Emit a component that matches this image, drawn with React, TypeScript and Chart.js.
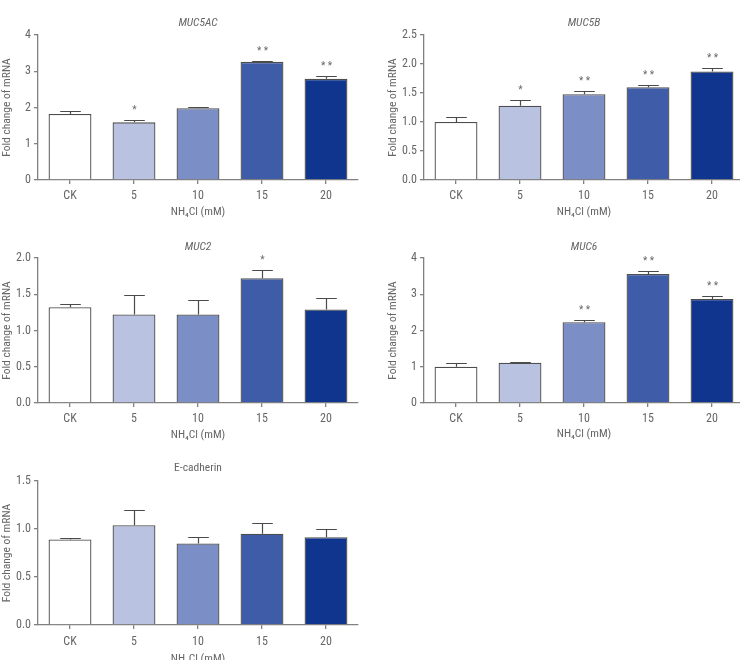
import React, { useEffect, useRef } from "react";
import { Chart, registerables } from "chart.js";

Chart.register(...registerables);

// ---------------- Data ----------------
const categories = ["CK", "5", "10", "15", "20"];

const muc5acMeans = [1.82, 1.59, 1.98, 3.26, 2.79];
const muc5acErr = [0.08, 0.06, 0.04, 0.03, 0.07];
const muc5acStars = ["", "*", "", "**", "**"];

const muc5bMeans = [1.0, 1.28, 1.48, 1.6, 1.87];
const muc5bErr = [0.08, 0.1, 0.06, 0.04, 0.06];
const muc5bStars = ["", "*", "**", "**", "**"];

const muc2Means = [1.32, 1.22, 1.22, 1.72, 1.29];
const muc2Err = [0.04, 0.27, 0.2, 0.11, 0.16];
const muc2Stars = ["", "", "", "*", ""];

const muc6Means = [1.0, 1.11, 2.23, 3.56, 2.87];
const muc6Err = [0.11, 0.03, 0.06, 0.07, 0.08];
const muc6Stars = ["", "", "**", "**", "**"];

const ecadMeans = [0.89, 1.04, 0.85, 0.95, 0.915];
const ecadErr = [0.02, 0.16, 0.07, 0.11, 0.09];
const ecadStars = ["", "", "", "", ""];

const yAxisTitle = "Fold change of mRNA";
const xAxisTitle = "NH\u2084Cl (mM)";

// ---------------- Style ----------------
const barColors = ["#ffffff", "#b9c3e1", "#7b8ec5", "#3f5ca8", "#0f358f"];
const FONT = '"Roboto Condensed", "Open Sans", sans-serif';
const TEXT = "#666666";
const AXIS = "#808080";

type PanelSpec = {
  title: string;
  italic: boolean;
  means: number[];
  errs: number[];
  stars: string[];
  max: number;
  step: number;
  decimals: number;
  x0: number;
  y0: number;
  plotLeft: number;
  plotRight: number;
  plotTop: number;
  plotBottom: number;
  titleY: number;
  xTickY: number;
  xTitleY: number;
  yTitleX: number;
};

const panels: PanelSpec[] = [
  { title: "MUC5AC", italic: true, means: muc5acMeans, errs: muc5acErr, stars: muc5acStars, max: 4, step: 1, decimals: 0,
    x0: 0, y0: 0, plotLeft: 38, plotRight: 358, plotTop: 35, plotBottom: 180, titleY: 23, xTickY: 196, xTitleY: 212, yTitleX: 7 },
  { title: "MUC5B", italic: true, means: muc5bMeans, errs: muc5bErr, stars: muc5bStars, max: 2.5, step: 0.5, decimals: 1,
    x0: 370, y0: 0, plotLeft: 424, plotRight: 744, plotTop: 35, plotBottom: 180, titleY: 23, xTickY: 196, xTitleY: 212, yTitleX: 393 },
  { title: "MUC2", italic: true, means: muc2Means, errs: muc2Err, stars: muc2Stars, max: 2, step: 0.5, decimals: 1,
    x0: 0, y0: 220, plotLeft: 38, plotRight: 358, plotTop: 258, plotBottom: 403, titleY: 247, xTickY: 419, xTitleY: 435, yTitleX: 7 },
  { title: "MUC6", italic: true, means: muc6Means, errs: muc6Err, stars: muc6Stars, max: 4, step: 1, decimals: 0,
    x0: 370, y0: 220, plotLeft: 424, plotRight: 744, plotTop: 258, plotBottom: 403, titleY: 247, xTickY: 419, xTitleY: 434, yTitleX: 393 },
  { title: "E-cadherin", italic: false, means: ecadMeans, errs: ecadErr, stars: ecadStars, max: 1.5, step: 0.5, decimals: 1,
    x0: 0, y0: 440, plotLeft: 38, plotRight: 358, plotTop: 481, plotBottom: 625, titleY: 468, xTickY: 642, xTitleY: 659, yTitleX: 7 },
];

const TICK_FONT = 12;
const TITLE_FONT = 11.5;
const AXIS_TITLE_FONT = 11.5;
const STAR_FONT = 10;
const TICK_LEN = 4;

function Panel({ spec }: { spec: PanelSpec }) {
  const ref = useRef<HTMLCanvasElement | null>(null);
  const W = spec.plotRight - spec.x0 + 2;
  const xTitleLH = AXIS_TITLE_FONT * 1.2;
  const H = Math.round(spec.xTitleY + xTitleLH / 2 + 2 - spec.y0);
  const yAxisW = spec.plotLeft - spec.x0;
  const xAxisH = H - (spec.plotBottom - spec.y0);
  const topPad = spec.plotTop - spec.y0;
  const tickPad = Math.max(0, spec.xTickY - spec.plotBottom - TICK_LEN - (TICK_FONT * 1.2) / 2);

  useEffect(() => {
    if (!ref.current) return;
    const overlay = {
      id: "errStarsTitle",
      afterDatasetsDraw(chart: any) {
        const ctx = chart.ctx;
        const meta = chart.getDatasetMeta(0);
        const ys = chart.scales.y;
        ctx.save();
        spec.means.forEach((m, i) => {
          const bar = meta.data[i];
          const x = Math.round(bar.x) + 0.5;
          const yTop = ys.getPixelForValue(m);
          const yErr = Math.round(ys.getPixelForValue(m + spec.errs[i])) + 0.5;
          const cap = bar.width * 0.24;
          ctx.strokeStyle = "#4a4a4a";
          ctx.lineWidth = 1.2;
          ctx.beginPath();
          ctx.moveTo(x, yTop);
          ctx.lineTo(x, yErr);
          ctx.moveTo(x - cap, yErr);
          ctx.lineTo(x + cap, yErr);
          ctx.stroke();
          if (spec.stars[i]) {
            ctx.fillStyle = TEXT;
            ctx.font = `${STAR_FONT}px ${FONT}`;
            ctx.textAlign = "center";
            ctx.textBaseline = "alphabetic";
            ctx.fillText(spec.stars[i].split("").join(" "), x, yErr - 8);
          }
        });
        // panel title centred over the plot area
        const ca = chart.chartArea;
        ctx.fillStyle = TEXT;
        ctx.font = `${spec.italic ? "italic " : ""}${TITLE_FONT}px ${FONT}`;
        ctx.textAlign = "center";
        ctx.textBaseline = "middle";
        ctx.fillText(spec.title, (ca.left + ca.right) / 2, spec.titleY - spec.y0);
        ctx.restore();
      },
    };

    const chart = new Chart(ref.current, {
      type: "bar",
      data: {
        labels: categories,
        datasets: [
          {
            data: spec.means,
            backgroundColor: barColors,
            borderColor: "#4d4d4d",
            borderWidth: 1.3,
            categoryPercentage: 1,
            barPercentage: 0.67,
          },
        ],
      },
      options: {
        responsive: false,
        animation: false,
        devicePixelRatio: 1,
        layout: { padding: { left: 0, right: 2, top: topPad, bottom: 0 } },
        plugins: {
          legend: { display: false },
          tooltip: { enabled: false },
          title: { display: false },
        },
        scales: {
          x: {
            offset: true,
            grid: { display: true, drawOnChartArea: false, drawTicks: true, tickLength: TICK_LEN, offset: false, color: AXIS, lineWidth: 1.3 },
            border: { display: true, color: AXIS, width: 1.3 },
            ticks: { color: TEXT, font: { family: FONT, size: TICK_FONT }, padding: tickPad, maxRotation: 0 },
            title: {
              display: true,
              text: xAxisTitle,
              color: TEXT,
              font: { family: FONT, size: AXIS_TITLE_FONT },
              padding: { top: 0, bottom: 2 },
            },
            afterFit: (s: any) => {
              s.height = xAxisH;
            },
          },
          y: {
            min: 0,
            max: spec.max,
            grid: { display: true, drawOnChartArea: false, drawTicks: true, tickLength: TICK_LEN, color: AXIS, lineWidth: 1.3 },
            border: { display: true, color: AXIS, width: 1.3 },
            ticks: {
              stepSize: spec.step,
              color: TEXT,
              font: { family: FONT, size: TICK_FONT },
              padding: 3,
              callback: (v: any) => Number(v).toFixed(spec.decimals),
            },
            title: {
              display: true,
              text: yAxisTitle,
              color: TEXT,
              font: { family: FONT, size: AXIS_TITLE_FONT },
              padding: { top: Math.max(0, spec.yTitleX - spec.x0 - (AXIS_TITLE_FONT * 1.2) / 2), bottom: 0 },
            },
            afterFit: (s: any) => {
              s.width = yAxisW;
            },
          },
        },
      } as any,
      plugins: [overlay],
    });
    return () => chart.destroy();
  }, []);

  return (
    <canvas
      ref={ref}
      width={W}
      height={H}
      style={{ position: "absolute", left: spec.x0, top: spec.y0, width: W, height: H }}
    />
  );
}

export default function App() {
  return (
    <div
      style={{
        position: "absolute",
        left: 0,
        top: 0,
        width: 740,
        height: 660,
        overflow: "hidden",
        background: "#ffffff",
      }}
    >
      {panels.map((p) => (
        <Panel key={p.title} spec={p} />
      ))}
    </div>
  );
}
